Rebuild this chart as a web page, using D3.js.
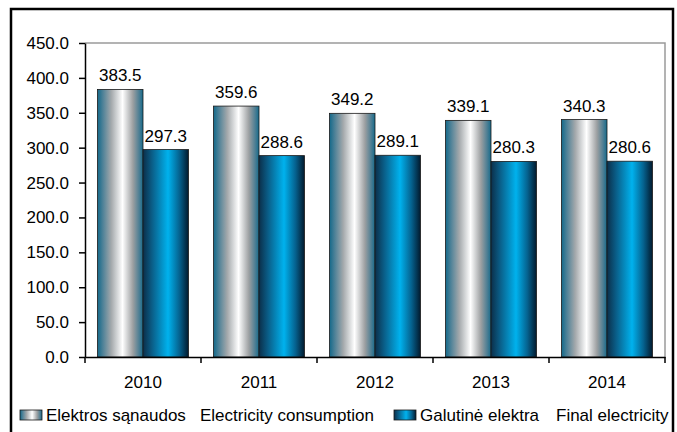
<!DOCTYPE html>
<html>
<head>
<meta charset="utf-8">
<script src="https://cdn.jsdelivr.net/npm/d3@7"></script>
<style>
  body { margin: 0; background: #fff; }
  text { font-family: "Liberation Sans", Arial, sans-serif; }
</style>
</head>
<body>
<svg id="chart" width="677" height="432"></svg>
<script>
// data
const years = ["2010", "2011", "2012", "2013", "2014"];
const consumption = [383.5, 359.6, 349.2, 339.1, 340.3];
const finalElec = [297.3, 288.6, 289.1, 280.3, 280.6];
const yTicks = [0, 50, 100, 150, 200, 250, 300, 350, 400, 450];
const seriesNames = [
  ["Elektros sąnaudos", "Electricity consumption"],
  ["Galutinė elektra", "Final electricity"]
];

const width = 677, height = 432;
const margin = { top: 43, right: 11, bottom: 75, left: 85 };
const fs = 17;

const svg = d3.select("#chart");

// gradients
const defs = svg.append("defs");
const silver = defs.append("linearGradient").attr("id", "silver");
[[0, "#13698a"], [0.12, "#4f8298"], [0.3, "#a3a8ab"], [0.55, "#ffffff"], [0.78, "#9c9fa1"], [0.92, "#4a7d93"], [1, "#156b8b"]]
  .forEach(([o, c]) => silver.append("stop").attr("offset", o).attr("stop-color", c));
const blue = defs.append("linearGradient").attr("id", "blue");
[[0, "#0b2f4a"], [0.2, "#0a5e88"], [0.55, "#00b2ee"], [0.8, "#05628f"], [1, "#021a2e"]]
  .forEach(([o, c]) => blue.append("stop").attr("offset", o).attr("stop-color", c));

// outer frame
svg.append("rect")
  .attr("x", 11).attr("y", 9)
  .attr("width", 662).attr("height", 430)
  .attr("fill", "none")
  .attr("stroke", "#000")
  .attr("stroke-width", 2.5);

// scales
const xScale = d3.scaleBand()
  .domain(years)
  .range([margin.left, width - margin.right - 1])
  .paddingInner(0)
  .paddingOuter(0);

const yScale = d3.scaleLinear()
  .domain([0, 450])
  .range([357, margin.top]);

const inner = 12.5;
const barW = (xScale.bandwidth() - 2 * inner) / 2;

// plot border (top & right, gray)
svg.append("path")
  .attr("d", `M${margin.left},${yScale(450)}H${xScale.range()[1]}V${yScale(0)}`)
  .attr("fill", "none")
  .attr("stroke", "#9a9a9a")
  .attr("stroke-width", 1.5);

// bars
const groups = svg.selectAll(".yr")
  .data(years)
  .join("g")
  .attr("class", "yr")
  .attr("transform", d => `translate(${xScale(d) + inner},0)`);

groups.append("rect")
  .attr("x", 0)
  .attr("y", (d, i) => yScale(consumption[i]))
  .attr("width", barW)
  .attr("height", (d, i) => yScale(0) - yScale(consumption[i]))
  .attr("fill", "url(#silver)")
  .attr("stroke", "#1a1a1a")
  .attr("stroke-width", 0.8);

groups.append("rect")
  .attr("x", barW)
  .attr("y", (d, i) => yScale(finalElec[i]))
  .attr("width", barW)
  .attr("height", (d, i) => yScale(0) - yScale(finalElec[i]))
  .attr("fill", "url(#blue)")
  .attr("stroke", "#1a1a1a")
  .attr("stroke-width", 0.8);

groups.append("text")
  .attr("x", barW / 2)
  .attr("y", (d, i) => yScale(consumption[i]) - 8)
  .attr("text-anchor", "middle")
  .attr("font-size", fs)
  .text((d, i) => consumption[i].toFixed(1));

groups.append("text")
  .attr("x", barW * 1.5)
  .attr("y", (d, i) => yScale(finalElec[i]) - 8)
  .attr("text-anchor", "middle")
  .attr("font-size", fs)
  .text((d, i) => finalElec[i].toFixed(1));

// y axis
const yAxis = svg.append("g")
  .attr("transform", `translate(${margin.left},0)`)
  .call(d3.axisLeft(yScale).tickValues(yTicks).tickFormat(d3.format(".1f")).tickSize(6).tickSizeOuter(0));
yAxis.select(".domain").attr("stroke", "#000").attr("stroke-width", 1.5);
yAxis.selectAll(".tick line").attr("stroke", "#000").attr("stroke-width", 1.5);
yAxis.selectAll(".tick text")
  .attr("font-size", fs)
  .attr("font-family", "Liberation Sans, Arial, sans-serif")
  .attr("fill", "#000")
  .attr("x", -16);

// x axis
const xAxis = svg.append("g")
  .attr("transform", `translate(0,${yScale(0)})`)
  .call(d3.axisBottom(xScale).tickSize(0).tickSizeOuter(0));
xAxis.select(".domain").attr("stroke", "#000").attr("stroke-width", 1.5);
xAxis.selectAll(".tick text")
  .attr("font-size", fs)
  .attr("font-family", "Liberation Sans, Arial, sans-serif")
  .attr("fill", "#000")
  .attr("dy", 0)
  .attr("y", 31);

// boundary ticks between categories
xAxis.selectAll(".sep")
  .data(d3.range(years.length + 1))
  .join("line")
  .attr("class", "sep")
  .attr("x1", i => margin.left + i * xScale.bandwidth())
  .attr("x2", i => margin.left + i * xScale.bandwidth())
  .attr("y1", 0)
  .attr("y2", 6)
  .attr("stroke", "#000")
  .attr("stroke-width", 1.5);

// legend
const legend = svg.append("g").attr("transform", "translate(0,421)");
const legendItems = [
  { x: 20, fill: "url(#silver)", names: seriesNames[0], x2: 200 },
  { x: 394, fill: "url(#blue)", names: seriesNames[1], x2: 556 }
];
legendItems.forEach(it => {
  legend.append("rect")
    .attr("x", it.x).attr("y", -11)
    .attr("width", 22).attr("height", 10)
    .attr("fill", it.fill)
    .attr("stroke", "#1a1a1a")
    .attr("stroke-width", 0.8);
  legend.append("text")
    .attr("x", it.x + 26).attr("y", 0)
    .attr("font-size", fs)
    .text(it.names[0]);
  legend.append("text")
    .attr("x", it.x2).attr("y", 0)
    .attr("font-size", fs)
    .text(it.names[1]);
});
</script>
</body>
</html>
